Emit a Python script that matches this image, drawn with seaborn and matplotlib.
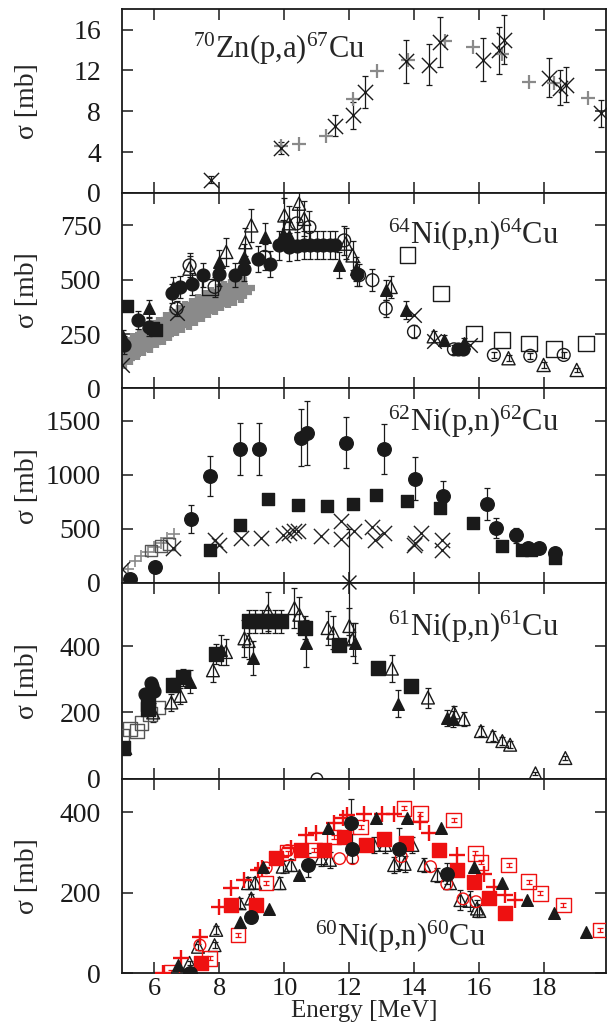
#!/usr/bin/env python3
# -*- coding: utf-8 -*-

import matplotlib
matplotlib.use("Agg")
import matplotlib.pyplot as plt
from matplotlib.markers import MarkerStyle
import seaborn as sns


# -----------------------
# 0) data (read off the reference)
# -----------------------
# --- 70Zn(p,a)67Cu
zn_x = [7.75, 9.9, 11.55, 12.1, 12.47, 13.75, 14.44, 14.78, 16.11, 16.61, 16.77, 18.14, 18.5, 18.68, 19.76]
zn_y = [1.3, 4.4, 6.6, 7.6, 9.9, 12.9, 12.55, 14.75, 13.05, 14.0, 15.0, 11.3, 10.3, 10.6, 7.8]
zn_err = [0.3, 0.6, 1.0, 1.3, 1.6, 2.1, 2.0, 2.45, 2.1, 2.3, 2.4, 1.9, 1.7, 1.7, 1.3]
zn_gx = [9.9, 10.44, 11.28, 12.1, 12.85, 13.8, 14.95, 15.82, 16.7, 17.52, 18.3, 19.34]
zn_gy = [4.6, 4.8, 5.6, 9.2, 11.9, 13.0, 14.9, 14.3, 13.6, 10.9, 10.8, 9.3]

# --- 64Ni(p,n)64Cu
ni64_gx = [5.05, 5.15, 5.25, 5.35, 5.45, 5.55, 5.65, 5.75, 5.85, 5.95, 6.05, 6.15, 6.25,
           6.35, 6.45, 6.55, 6.65, 6.75, 6.85, 6.95, 7.05, 7.15, 7.25, 7.35, 7.45, 7.55,
           7.65, 7.75, 7.85, 7.95, 8.05, 8.15, 8.25, 8.35, 8.45, 8.55, 8.65, 8.75]
ni64_gy = [140, 185, 160, 205, 180, 225, 200, 245, 215, 265, 235, 280, 250,
           300, 270, 315, 290, 335, 305, 350, 320, 365, 340, 385, 355, 400,
           375, 415, 390, 430, 405, 445, 420, 455, 430, 470, 445, 460]
ni64_cx = [5.07, 5.48, 5.84, 6.55, 6.8, 7.16, 7.5, 8.0, 8.47, 8.77, 9.19, 9.55, 9.84,
           10.15, 10.4, 10.6, 10.8, 11.0, 11.2, 11.4, 11.55, 12.23, 15.33, 15.5]
ni64_cy = [199, 314, 283, 437, 467, 480, 521, 528, 521, 551, 597, 574, 658,
           650, 655, 660, 660, 660, 660, 660, 660, 528, 180, 183]
ni64_ce = [40, 40, 40, 45, 50, 50, 55, 55, 55, 55, 60, 60, 65,
           65, 65, 65, 65, 65, 65, 65, 65, 55, 20, 20]
ni64_tx = [5.04, 5.82, 6.57, 8.0, 8.77, 9.39, 9.95, 10.14, 11.69, 12.2, 13.12, 13.73, 14.91, 15.52]
ni64_ty = [238, 368, 467, 582, 605, 696, 712, 700, 566, 551, 452, 360, 222, 207]
ni64_te = [30, 40, 45, 55, 60, 65, 65, 65, 60, 55, 45, 40, 25, 25]
ni64_ox = [7.08, 8.21, 8.8, 8.98, 10.0, 10.14, 10.45, 10.61, 11.89, 12.1, 13.27, 14.6, 16.9, 17.98, 19.0]
ni64_oy = [551, 628, 673, 750, 796, 760, 850, 780, 666, 612, 467, 240, 139, 108, 85]
ni64_oe = [60, 65, 65, 75, 80, 80, 85, 80, 70, 65, 50, 25, 15, 12, 10]
ni64_ocx = [6.68, 7.08, 7.85, 9.39, 10.38, 10.77, 11.84, 12.3, 12.71, 13.12, 13.99, 15.22, 16.45, 17.57, 18.6]
ni64_ocy = [368, 566, 467, 605, 759, 742, 681, 521, 498, 368, 261, 180, 154, 150, 154]
ni64_oce = [35, 55, 45, 60, 75, 75, 65, 50, 50, 40, 30, 20, 15, 15, 15]
ni64_sx = [7.7, 13.79, 14.81, 15.83, 16.7, 17.52, 18.29, 19.29]
ni64_sy = [467, 612, 437, 253, 222, 207, 180, 207]
ni64_fx = [5.14, 5.95, 6.05]
ni64_fy = [378, 280, 270]
ni64_xx = [4.99, 6.68, 13.99, 14.6, 15.7]
ni64_xy = [108, 345, 337, 220, 200]

# --- 62Ni(p,n)62Cu
ni62_cx = [5.24, 6.01, 7.11, 7.7, 8.62, 9.21, 10.51, 10.71, 11.89, 13.07, 14.02, 14.89,
           16.23, 16.53, 17.13, 17.5, 17.84, 18.32]
ni62_cy = [33, 150, 592, 991, 1236, 1236, 1344, 1390, 1297, 1239, 963, 807,
           730, 509, 441, 325, 320, 279]
ni62_ce = [0, 0, 130, 185, 240, 240, 265, 295, 235, 230, 200, 140,
           145, 90, 70, 40, 40, 40]
ni62_sx = [7.7, 8.62, 9.51, 10.41, 11.31, 12.11, 12.83, 13.78, 14.8, 15.82, 16.71, 17.3, 17.6, 18.32]
ni62_sy = [303, 540, 779, 718, 708, 730, 816, 754, 693, 555, 340, 300, 300, 233]
ni62_xx = [4.99, 6.57, 7.85, 8.0, 8.67, 9.28, 9.95, 10.15, 10.3, 10.42, 11.13, 11.74,
           11.74, 12.15, 12.71, 12.8, 13.07, 14.0, 14.02, 14.2, 14.86, 14.86]
ni62_xy = [125, 325, 401, 355, 417, 417, 447, 465, 480, 480, 432, 570,
           402, 484, 515, 401, 463, 355, 371, 463, 401, 308]
ni62_gx = [5.2, 5.4, 5.6, 5.8, 6.0, 6.2, 6.4, 6.6]
ni62_gy = [130, 200, 250, 290, 330, 370, 420, 450]
ni62_qx = [5.9, 6.2, 6.45]
ni62_qy = [300, 340, 360]

# --- 61Ni(p,n)61Cu
ni61_sx = [5.04, 5.81, 5.81, 6.57, 6.88, 7.9, 8.9, 9.1, 9.3, 9.5, 9.7, 9.9, 10.63, 11.69, 12.89, 13.9]
ni61_sy = [93, 225, 210, 283, 306, 377, 474, 474, 474, 474, 474, 474, 455, 403, 335, 281]
ni61_se = [10, 20, 20, 20, 25, 30, 35, 35, 35, 35, 35, 35, 35, 0, 0, 15]
ni61_cx = [5.7, 5.91, 6.0, 5.9]
ni61_cy = [256, 281, 265, 290]
ni61_tx = [7.08, 8.06, 9.03, 10.67, 12.17, 13.49, 15.01, 15.2]
ni61_ty = [293, 387, 364, 408, 408, 227, 184, 180]
ni61_te = [35, 45, 50, 70, 60, 40, 25, 25]
ni61_ox = [5.1, 5.96, 6.52, 6.8, 7.8, 8.2, 8.77, 8.9, 9.49, 10.31, 10.46, 11.33, 11.5,
           12.0, 12.1, 13.31, 14.42, 15.22, 15.52, 16.05, 16.41, 16.71, 16.95, 17.73, 18.65]
ni61_oy = [93, 200, 230, 250, 327, 382, 423, 415, 504, 514, 494, 454, 440,
           460, 420, 332, 245, 200, 180, 144, 129, 114, 103, 17, 63]
ni61_oe = [10, 30, 25, 25, 35, 40, 55, 55, 60, 60, 55, 50, 50,
           55, 50, 40, 30, 20, 20, 15, 15, 12, 10, 5, 5]
ni61_qx = [5.0, 5.25, 5.45, 5.6, 5.85, 6.1]
ni61_qy = [130, 150, 145, 168, 195, 215]
ni61_zx = [11.0]
ni61_zy = [0]
ni61_ax = [12.0]
ni61_ay = [592]
ni61_ae = [160]

# --- 60Ni(p,n)60Cu
ni60_px = [6.27, 6.83, 7.39, 8.0, 8.36, 8.77, 9.18, 9.3, 9.9, 10.2, 10.67, 10.97, 11.53, 11.8,
           11.94, 12.46, 13.02, 13.38, 14.19, 14.45, 15.31, 16.13, 16.45, 16.8, 17.11]
ni60_py = [2, 37, 91, 165, 211, 232, 257, 262, 290, 311, 344, 349, 373, 385,
           393, 397, 397, 397, 377, 348, 294, 248, 215, 194, 182]
ni60_sx = [7.44, 8.36, 9.13, 9.75, 10.51, 11.23, 11.84, 12.5, 13.07, 13.73, 14.76, 15.31,
           15.83, 16.29, 16.8]
ni60_sy = [26, 170, 170, 286, 306, 306, 339, 319, 335, 323, 306, 257, 228, 186, 149]
ni60_qx = [6.52, 7.7, 8.57, 9.44, 10.1, 10.92, 11.53, 12.35, 13.68, 14.19, 15.21, 15.88,
           16.05, 16.9, 17.52, 17.88, 18.59, 19.72]
ni60_qy = [2, 37, 95, 224, 300, 306, 339, 364, 410, 397, 381, 298, 276, 269, 228, 199, 170, 108]
ni60_rx = [7.4, 9.44, 10.1, 11.7, 12.1, 13.6, 14.5, 15.0, 15.5, 15.9]
ni60_ry = [70, 262, 305, 285, 285, 290, 265, 222, 185, 178]
ni60_tx = [6.73, 8.62, 9.34, 9.54, 10.46, 11.33, 12.81, 13.79, 14.81, 15.83, 16.7, 17.47, 18.29, 19.29]
ni60_ty = [21, 128, 265, 161, 244, 360, 385, 385, 360, 265, 224, 182, 149, 103]
ni60_cx = [7.08, 8.98, 10.72, 12.05, 12.07, 13.53, 15.01]
ni60_cy = [2, 141, 269, 373, 310, 310, 248]
ni60_ce = [0, 15, 30, 60, 35, 50, 25]
ni60_ox = [7.08, 7.34, 7.85, 7.9, 8.62, 8.98, 8.88, 9.1, 9.85, 9.95, 10.2, 11.13, 11.4,
           12.76, 13.1, 13.38, 13.7, 13.94, 14.3, 14.71, 15.1, 15.42, 15.7, 15.93, 16.0]
ni60_oy = [26, 66, 70, 108, 174, 186, 224, 225, 224, 265, 269, 286, 282,
           319, 319, 269, 272, 319, 269, 244, 224, 182, 180, 161, 155]
ni60_oe = [5, 8, 8, 10, 12, 12, 15, 15, 15, 15, 15, 20, 20,
           20, 20, 20, 20, 20, 18, 18, 15, 25, 25, 20, 15]

reactions = [r"$^{70}$Zn(p,a)$^{67}$Cu", r"$^{64}$Ni(p,n)$^{64}$Cu", r"$^{62}$Ni(p,n)$^{62}$Cu",
             r"$^{61}$Ni(p,n)$^{61}$Cu", r"$^{60}$Ni(p,n)$^{60}$Cu"]
y_ticks = [[0, 4, 8, 12, 16], [0, 250, 500, 750], [0, 500, 1000, 1500], [0, 200, 400], [0, 200, 400]]
y_lims = [18, 900, 1800, 590, 483]
label_pos = [(7.2, 14.1), (13.2, 704), (13.2, 1491), (13.2, 458), (10.95, 91)]

RED = "#ee1111"
GRAY = "#8a8a8a"


# -----------------------
# 1) style
# -----------------------
sns.set_theme(style="ticks")
plt.rcParams["font.family"] = ["Liberation Serif", "DejaVu Serif"]
plt.rcParams["mathtext.fontset"] = "custom"
plt.rcParams["mathtext.rm"] = "Liberation Serif"
plt.rcParams["mathtext.it"] = "Liberation Serif:italic"
plt.rcParams["axes.linewidth"] = 1.3


def draw(ax, x, y, marker, color="k", s=70, fill=True, err=None, lw=1.0, clip=True, z=3):
    if err is not None:
        ax.errorbar(x, y, yerr=err, fmt="none", ecolor=color, elinewidth=0.9,
                    capsize=2, capthick=0.9, zorder=z - 1, clip_on=clip)
    if fill:
        sns.scatterplot(x=x, y=y, marker=marker, s=s, color=color, edgecolor=color,
                        linewidth=lw, ax=ax, zorder=z, legend=False, clip_on=clip)
    else:
        m = marker if marker in ("x", "+") else MarkerStyle(marker, fillstyle="none")
        sns.scatterplot(x=x, y=y, marker=m, s=s, color=color,
                        linewidth=lw, ax=ax, zorder=z, legend=False, clip_on=clip)


# -----------------------
# 2) figure
# -----------------------
fig = plt.figure(figsize=(6.09, 10.35), dpi=100)
gs = fig.add_gridspec(5, 1, left=0.2003, right=0.995, top=0.991, bottom=0.0596,
                      hspace=0, height_ratios=[183.4, 195.6, 194.4, 196, 194.3])
axes = [fig.add_subplot(gs[i]) for i in range(5)]

# panel 1
ax = axes[0]
draw(ax, zn_gx, zn_gy, "+", color=GRAY, s=90, fill=False, lw=1.6)
draw(ax, zn_x, zn_y, "x", s=120, fill=False, err=zn_err, lw=1.0)

# panel 2
ax = axes[1]
draw(ax, ni64_gx, ni64_gy, "+", color=GRAY, s=230, fill=False, lw=4.5, z=2)
draw(ax, ni64_sx, ni64_sy, "s", s=130, fill=False, lw=1.0)
draw(ax, ni64_ocx, ni64_ocy, "o", s=85, fill=False, err=ni64_oce)
draw(ax, ni64_ox, ni64_oy, "^", s=90, fill=False, err=ni64_oe)
draw(ax, ni64_tx, ni64_ty, "^", s=70, err=ni64_te)
draw(ax, ni64_cx, ni64_cy, "o", s=85, err=ni64_ce)
draw(ax, ni64_fx, ni64_fy, "s", s=80)
draw(ax, ni64_xx, ni64_xy, "x", s=110, fill=False)

# panel 3
ax = axes[2]
draw(ax, ni62_gx, ni62_gy, "+", color=GRAY, s=70, fill=False, lw=1.2)
draw(ax, ni62_qx, ni62_qy, "s", color="#555555", s=70, fill=False)
draw(ax, ni62_xx, ni62_xy, "x", color="#222222", s=120, fill=False)
draw(ax, ni62_sx, ni62_sy, "s", s=85)
draw(ax, ni62_cx, ni62_cy, "o", s=95, err=ni62_ce)

# panel 4
ax = axes[3]
draw(ax, ni61_qx, ni61_qy, "s", color="#555555", s=100, fill=False)
draw(ax, ni61_ox, ni61_oy, "^", s=85, fill=False, err=ni61_oe)
draw(ax, ni61_tx, ni61_ty, "^", s=70, err=ni61_te)
draw(ax, ni61_sx, ni61_sy, "s", s=90, err=ni61_se)
draw(ax, ni61_cx, ni61_cy, "o", s=85)
draw(ax, ni61_zx, ni61_zy, "o", s=70, fill=False, clip=False)
draw(ax, ni61_ax, ni61_ay, "x", s=100, fill=False, err=ni61_ae, clip=False, z=6)

# panel 5
ax = axes[4]
draw(ax, ni60_ox, ni60_oy, "^", s=85, fill=False, err=ni60_oe)
draw(ax, ni60_rx, ni60_ry, "o", color=RED, s=70, fill=False)
draw(ax, ni60_qx, ni60_qy, "s", color=RED, s=110, fill=False, err=[5] * len(ni60_qx))
draw(ax, ni60_px, ni60_py, "+", color=RED, s=120, fill=False, lw=1.7)
draw(ax, ni60_sx, ni60_sy, "s", color=RED, s=95)
draw(ax, ni60_tx, ni60_ty, "^", s=70)
draw(ax, ni60_cx, ni60_cy, "o", s=95, err=ni60_ce)

# -----------------------
# 3) axes cosmetics
# -----------------------
for i, ax in enumerate(axes):
    ax.set_xlim(5.0, 19.9)
    ax.set_ylim(0, y_lims[i])
    ax.set_xticks([6, 8, 10, 12, 14, 16, 18])
    ax.set_yticks(y_ticks[i])
    ax.tick_params(axis="both", which="major", direction="in", length=8, width=1.1,
                   top=True, right=True, labelsize=20, colors="k")
    ax.tick_params(axis="y", pad=15)
    ax.tick_params(axis="x", pad=3.5, labelsize=19)
    for sp in ax.spines.values():
        sp.set_visible(True)
        sp.set_color("k")
    ax.set_ylabel("σ [mb]", fontsize=20)
    ax.yaxis.set_label_coords(-0.17, 0.5)
    ax.set_xlabel("")
    ax.text(label_pos[i][0], label_pos[i][1], reactions[i], fontsize=22,
            ha="left", va="center", zorder=8)
    if i < 4:
        ax.tick_params(axis="x", labelbottom=False)

axes[-1].set_xlabel("Energy [MeV]", fontsize=18, labelpad=0)

fig.savefig("out.png", dpi=100)
